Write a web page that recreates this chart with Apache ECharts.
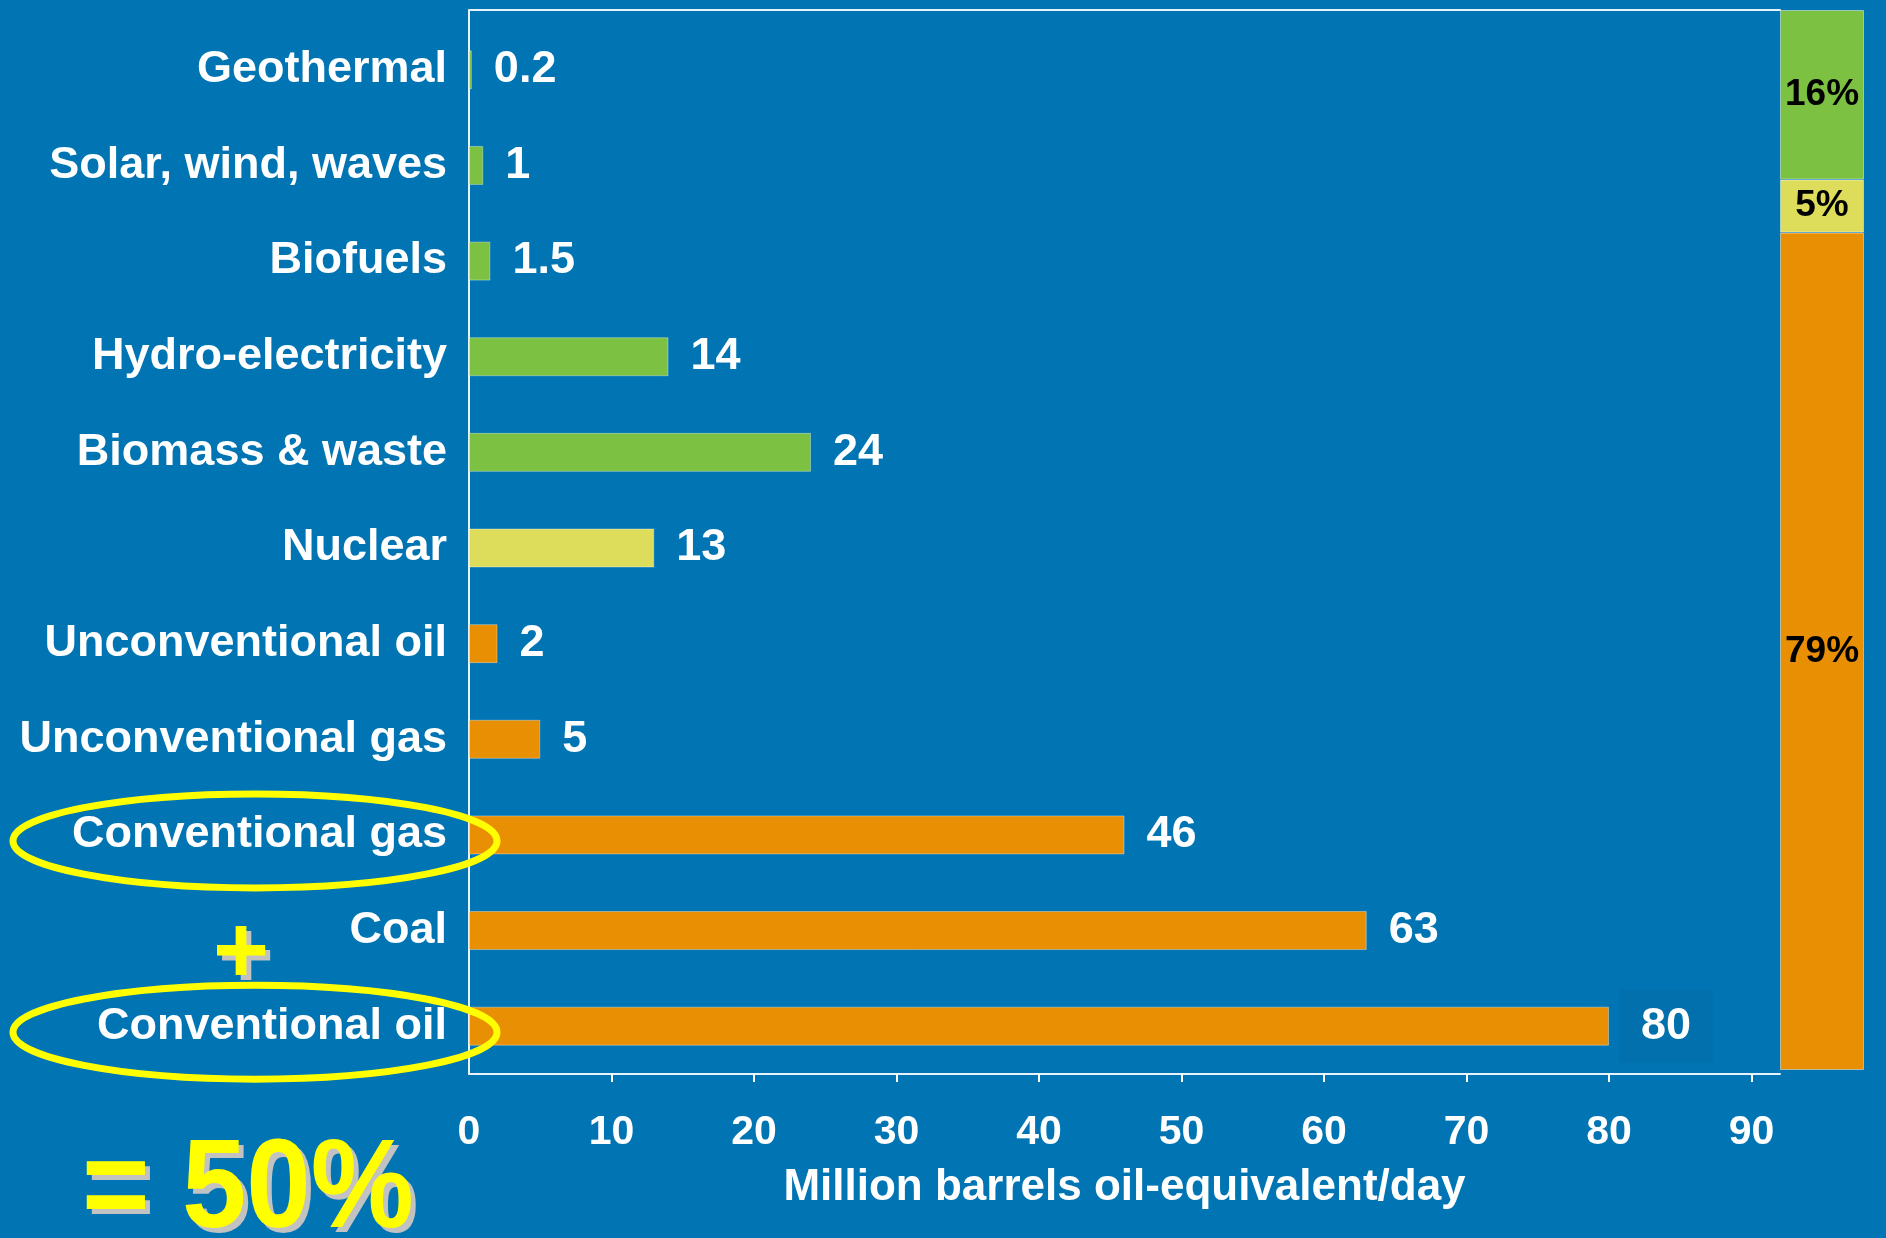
<!DOCTYPE html>
<html>
<head>
<meta charset="utf-8">
<title>World primary energy supply by source</title>
<script src="https://cdn.jsdelivr.net/npm/echarts@6/dist/echarts.min.js"></script>
<style>
  html, body { margin: 0; padding: 0; background: #0175b3; }
  #chart { width: 1886px; height: 1238px; }
</style>
</head>
<body>
<div id="chart"></div>
<script>
// Energy sources, top to bottom, in million barrels oil-equivalent per day
const categories = [
  'Geothermal', 'Solar, wind, waves', 'Biofuels', 'Hydro-electricity',
  'Biomass & waste', 'Nuclear', 'Unconventional oil', 'Unconventional gas',
  'Conventional gas', 'Coal', 'Conventional oil'
];
const supply = [0.2, 1, 1.5, 14, 24, 13, 2, 5, 46, 63, 80];
const sourceGroup = [
  'renewable', 'renewable', 'renewable', 'renewable', 'renewable',
  'nuclear', 'fossil', 'fossil', 'fossil', 'fossil', 'fossil'
];
const xTicks = [0, 10, 20, 30, 40, 50, 60, 70, 80, 90];
const axisTitle = 'Million barrels oil-equivalent/day';

// Share of total supply per group (stacked bar on the right)
const shareGroups = ['fossil', 'nuclear', 'renewable'];
const shares = [79, 5, 16];

// Callout: the two highlighted sources and their combined share
const highlighted = ['Conventional gas', 'Conventional oil'];
const calloutJoin = '+';
const calloutResult = '= 50%';

const FONT = "'Liberation Sans', Arial, Helvetica, sans-serif";
const BG = '#0175b3';
const FRAME = '#e8f2fa';
const groupColor = { renewable: '#7cc142', nuclear: '#dedd5b', fossil: '#e88f04' };

const maxSupply = Math.max(...supply);

const GRID_LEFT = 469, GRID_TOP = 22, GRID_H = 1052, FRAME_TOP = 10;

const chart = echarts.init(document.getElementById('chart'), null, { renderer: 'canvas' });

const option = {
  backgroundColor: BG,
  animation: false,
  textStyle: { fontFamily: FONT },
  grid: [
    { left: GRID_LEFT, width: 1311, top: GRID_TOP, height: GRID_H, containLabel: false },
    { left: 1780, width: 84, top: FRAME_TOP, height: 1060, containLabel: false }
  ],
  xAxis: [
    {
      type: 'value', gridIndex: 0, min: 0, max: 92,
      axisLine: { show: true, lineStyle: { color: FRAME, width: 2 } },
      axisTick: { show: true, length: 8, customValues: xTicks.slice(1), lineStyle: { color: '#ffffff', width: 2 } },
      axisLabel: {
        customValues: xTicks, margin: 38,
        color: '#ffffff', fontSize: 41, fontWeight: 'bold', fontFamily: FONT
      },
      splitLine: { show: false },
      name: axisTitle, nameLocation: 'middle', nameGap: 92,
      nameTextStyle: { color: '#ffffff', fontSize: 44, fontWeight: 'bold', fontFamily: FONT }
    },
    {
      // top edge of the plot frame
      type: 'value', gridIndex: 0, min: 0, max: 92, position: 'top', offset: GRID_TOP - FRAME_TOP,
      axisLine: { show: true, lineStyle: { color: FRAME, width: 2 } },
      axisTick: { show: false }, axisLabel: { show: false }, splitLine: { show: false }
    },
    { type: 'category', gridIndex: 1, data: ['share'], show: false }
  ],
  yAxis: [
    {
      type: 'category', gridIndex: 0, data: categories, inverse: true,
      axisLine: { show: true, lineStyle: { color: FRAME, width: 2 } },
      axisTick: { show: false },
      axisLabel: { color: '#ffffff', fontSize: 45, fontWeight: 'bold', fontFamily: FONT, margin: 22 },
      splitLine: { show: false }
    },
    { type: 'value', gridIndex: 1, min: 0, max: 100, show: false }
  ],
  series: [
    {
      type: 'bar', xAxisIndex: 0, yAxisIndex: 0, barWidth: 39,
      data: supply.map((v, i) => {
        const item = {
          value: v,
          itemStyle: { color: groupColor[sourceGroup[i]], borderColor: 'rgba(255,255,255,0.35)', borderWidth: 1 }
        };
        if (v === maxSupply) {
          item.label = { backgroundColor: '#0370ae', padding: [14, 22, 14, 22], distance: 10 };
        }
        return item;
      }),
      label: {
        show: true, position: 'right', distance: 22, formatter: '{c}',
        color: '#ffffff', fontSize: 45, fontWeight: 'bold', fontFamily: FONT
      },
      z: 3
    },
    ...shareGroups.map((g, i) => ({
      type: 'bar', xAxisIndex: 2, yAxisIndex: 1, stack: 'share', barWidth: '100%',
      name: g,
      data: [shares[i]],
      itemStyle: { color: groupColor[g], borderColor: 'rgba(255,255,255,0.45)', borderWidth: 1 },
      label: {
        show: true, position: 'inside', formatter: '{c}%',
        color: '#000000', fontSize: 37, fontWeight: 'bold', fontFamily: FONT
      },
      z: 3
    }))
  ]
};

chart.setOption(option);

// Callout ellipses around the highlighted labels, anchored to their category rows
const rows = highlighted.map(name => chart.convertToPixel({ yAxisIndex: 0 }, name));
const ellipses = rows.map(cy => ({
  type: 'ellipse', z: 100,
  shape: { cx: 255, cy: cy + 6, rx: 242, ry: 47 },
  style: { fill: null, stroke: '#ffff00', lineWidth: 7 }
}));

const yellowText = (text, x, y, size, align, extra) => Object.assign({
  type: 'text', z: 101, x: x, y: y,
  style: {
    text: text, fill: '#ffff00', font: 'bold ' + size + 'px ' + FONT,
    align: align, verticalAlign: 'middle',
    textShadowColor: '#c2c2c2', textShadowOffsetX: 5, textShadowOffsetY: 5, textShadowBlur: 0.01
  }
}, extra || {});

chart.setOption({
  graphic: [
    // left frame edge continues up to the top frame line
    {
      type: 'line', z: 5,
      shape: { x1: GRID_LEFT, y1: FRAME_TOP, x2: GRID_LEFT, y2: GRID_TOP },
      style: { stroke: FRAME, lineWidth: 2 }
    },
    ...ellipses,
    yellowText(calloutJoin, 241, (rows[0] + rows[1]) / 2 + 26, 96, 'center'),
    yellowText(calloutResult, 82, 1192, 126, 'left', { scaleX: 0.92 })
  ]
});
</script>
</body>
</html>
